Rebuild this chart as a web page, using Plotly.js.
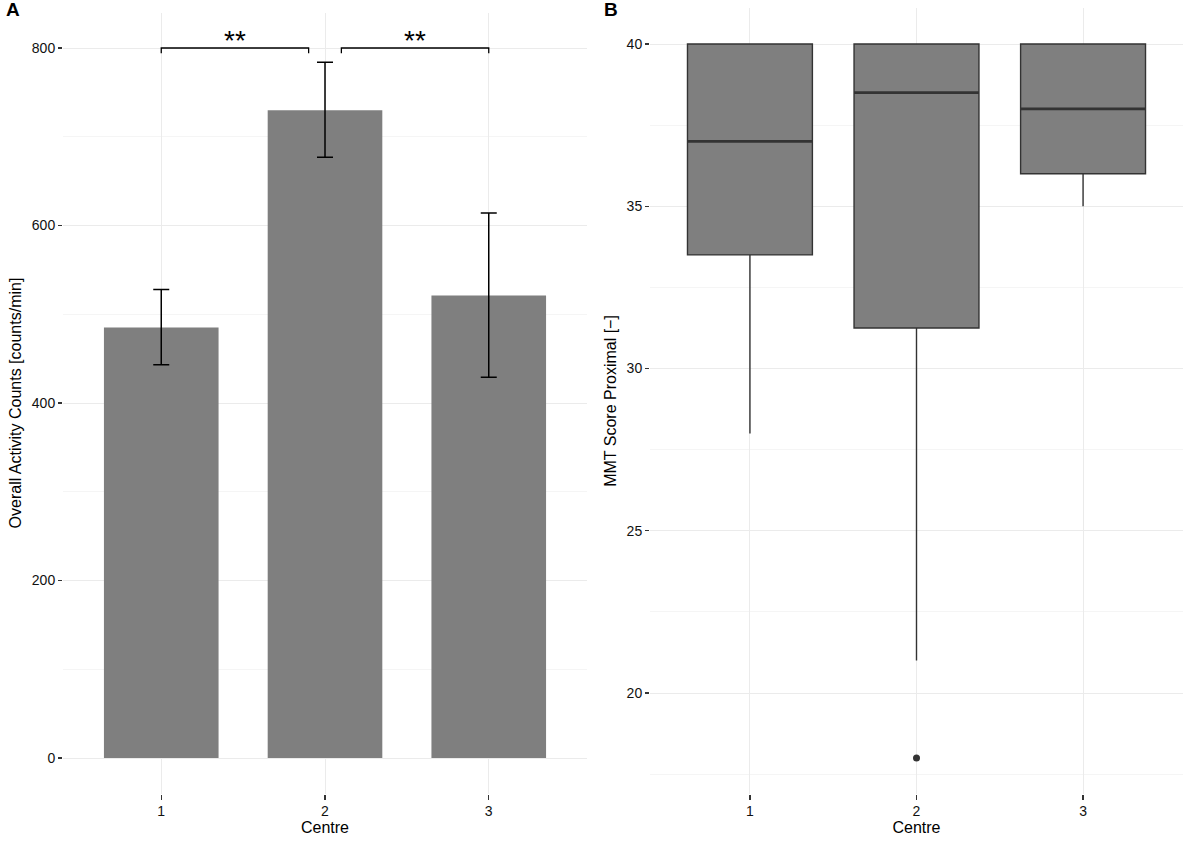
<!DOCTYPE html>
<html>
<head>
<meta charset="utf-8">
<script src="https://cdn.plot.ly/plotly-3.0.1.min.js"></script>
<style>html,body{margin:0;padding:0;background:#fff;}#chart{width:1192px;height:842px;}</style>
</head>
<body>
<div id="chart"></div>
<script>
// ---- Data ----
const centres = [1, 2, 3];
const centreLabels = ['1', '2', '3'];
// Panel A: mean overall activity counts with error bars
const activityMean = [485, 730, 521];
const activityUpper = [528, 784, 614];
const activityLower = [443, 677, 429];
// Significance brackets
const bracketStart = [1, 2.1];
const bracketEnd = [1.9, 3];
const bracketY = 800;
const bracketTip = 794;
const bracketLabels = ['**', '**'];
// Panel B: MMT score proximal box statistics
const mmtLowerFence = [28, 21, 35];
const mmtQ1 = [33.5, 31.25, 36];
const mmtMedian = [37, 38.5, 38];
const mmtQ3 = [40, 40, 40];
const mmtUpperFence = [40, 40, 40];
const outlierCentre = [2];
const outlierValue = [18];

// ---- Styling ----
const barColor = '#7F7F7F';
const dark = '#333333';
const gridMajor = '#EBEBEB';
const gridMinor = '#F5F5F5';
const font = 'Liberation Sans, Arial, Helvetica, sans-serif';
const boxWidth = 0.75;

const traces = [];

traces.push({
  type: 'bar', x: centres, y: activityMean, width: 0.7,
  marker: {color: barColor, line: {width: 0}},
  error_y: {
    type: 'data', symmetric: false,
    array: activityMean.map((m, i) => activityUpper[i] - m),
    arrayminus: activityMean.map((m, i) => m - activityLower[i]),
    color: '#000', thickness: 1.5, width: 8
  },
  xaxis: 'x', yaxis: 'y', hoverinfo: 'skip', showlegend: false
});

bracketStart.forEach((s, i) => {
  traces.push({
    type: 'scatter', mode: 'lines',
    x: [s, s, bracketEnd[i], bracketEnd[i]],
    y: [bracketTip, bracketY, bracketY, bracketTip],
    line: {color: '#000', width: 1.3},
    xaxis: 'x', yaxis: 'y', hoverinfo: 'skip', showlegend: false, cliponaxis: false
  });
});

traces.push({
  type: 'box', x: centres,
  q1: mmtQ1, median: mmtMedian, q3: mmtQ3,
  lowerfence: mmtLowerFence, upperfence: mmtUpperFence,
  width: boxWidth, whiskerwidth: 0,
  fillcolor: barColor, line: {color: dark, width: 1.4},
  xaxis: 'x2', yaxis: 'y2', hoverinfo: 'skip', showlegend: false
});

// thicker median lines (ggplot fatten)
centres.forEach((c, i) => {
  traces.push({
    type: 'scatter', mode: 'lines',
    x: [c - boxWidth / 2, c + boxWidth / 2],
    y: [mmtMedian[i], mmtMedian[i]],
    line: {color: dark, width: 2.8},
    xaxis: 'x2', yaxis: 'y2', hoverinfo: 'skip', showlegend: false
  });
});

traces.push({
  type: 'scatter', mode: 'markers', x: outlierCentre, y: outlierValue,
  marker: {color: dark, size: 7},
  xaxis: 'x2', yaxis: 'y2', hoverinfo: 'skip', showlegend: false, cliponaxis: false
});

const tickFont = {family: font, size: 14, color: '#111'};
const titleFont = {family: font, size: 16, color: '#000'};

const xCommon = {
  tickmode: 'array', tickvals: centres, ticktext: centreLabels,
  range: [0.4, 3.6], showgrid: true, gridcolor: gridMajor, gridwidth: 1,
  zeroline: false, showline: false,
  ticks: 'outside', ticklen: 5, tickwidth: 1.3, tickcolor: dark,
  tickfont: tickFont,
  title: {text: 'Centre', font: titleFont, standoff: 3}
};

const annotations = bracketLabels.map((t, i) => ({
  xref: 'x', yref: 'y', x: (bracketStart[i] + bracketEnd[i]) / 2, y: bracketY,
  text: t, showarrow: false, yanchor: 'bottom', yshift: -10,
  font: {family: font, size: 28, color: '#000'}
}));
annotations.push({xref: 'paper', yref: 'paper', x: 0.003, y: 1.003, xanchor: 'left', yanchor: 'top',
  text: '<b>A</b>', showarrow: false, font: {family: font, size: 19, color: '#000'}});
annotations.push({xref: 'paper', yref: 'paper', x: 0.505, y: 1.003, xanchor: 'left', yanchor: 'top',
  text: '<b>B</b>', showarrow: false, font: {family: font, size: 19, color: '#000'}});

const layout = {
  width: 1192, height: 842,
  margin: {l: 0, r: 0, t: 0, b: 0},
  paper_bgcolor: '#fff', plot_bgcolor: '#fff',
  showlegend: false,
  xaxis: Object.assign({}, xCommon, {domain: [63 / 1192, 587 / 1192], anchor: 'y'}),
  xaxis2: Object.assign({}, xCommon, {domain: [650 / 1192, 1183 / 1192], anchor: 'y2'}),
  yaxis: {
    domain: [1 - 793.5 / 842, 1 - 12.5 / 842], anchor: 'x',
    range: [-40, 840], tickvals: [0, 200, 400, 600, 800],
    showgrid: true, gridcolor: gridMajor, gridwidth: 1, zeroline: false, showline: false,
    minor: {tickvals: [100, 300, 500, 700], showgrid: true, gridcolor: gridMinor, gridwidth: 1, ticks: ''},
    ticks: 'outside', ticklen: 4, tickwidth: 1.3, tickcolor: dark,
    tickfont: tickFont,
    title: {text: 'Overall Activity Counts [counts/min]', font: titleFont, standoff: 6}
  },
  yaxis2: {
    domain: [1 - 793.6 / 842, 1 - 8.3 / 842], anchor: 'x2',
    range: [16.9, 41.1], tickvals: [20, 25, 30, 35, 40],
    showgrid: true, gridcolor: gridMajor, gridwidth: 1, zeroline: false, showline: false,
    minor: {tickvals: [17.5, 22.5, 27.5, 32.5, 37.5], showgrid: true, gridcolor: gridMinor, gridwidth: 1, ticks: ''},
    ticks: 'outside', ticklen: 4, tickwidth: 1.3, tickcolor: dark,
    tickfont: tickFont,
    title: {text: 'MMT Score Proximal [\u2212]', font: titleFont, standoff: 6}
  },
  annotations: annotations
};

Plotly.newPlot('chart', traces, layout, {staticPlot: true, displayModeBar: false});
</script>
</body>
</html>
